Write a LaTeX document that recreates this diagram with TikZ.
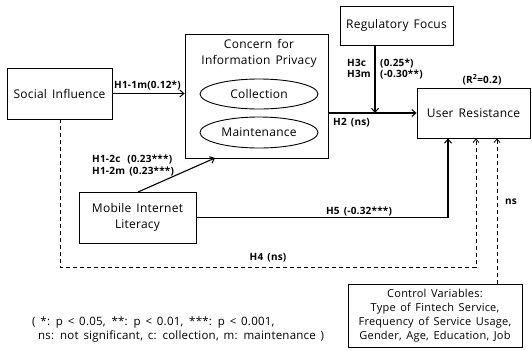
\documentclass[tikz,border=0pt]{standalone}
\usepackage{fontspec}
\setmainfont{Open Sans}[LetterSpace=2,WordSpace=1.5]
\usetikzlibrary{arrows.meta,shapes.geometric}
\begin{document}
\begin{tikzpicture}[x=1pt,y=-1pt,
  box/.style={draw,line width=0.9pt,rectangle,inner sep=0pt,align=center,font=\fontsize{12}{14}\selectfont},
  oval/.style={draw,line width=0.9pt,ellipse,inner sep=0pt,font=\fontsize{12}{14}\selectfont},
  lbl/.style={font=\bfseries\fontsize{10}{11}\selectfont,inner sep=0pt},
  arr/.style={line width=1.1pt,-{Straight Barb[length=4pt,width=7pt,line width=1pt]}},
  darr/.style={line width=0.8pt,dash pattern=on 4pt off 3pt,-{Straight Barb[length=3.5pt,width=6pt,line width=0.8pt]}},
  dln/.style={line width=0.8pt,dash pattern=on 4pt off 3pt}]
\useasboundingbox (0,0) rectangle (532,349);
\node[box,minimum width=105pt,minimum height=51pt] (SI) at (59.5,93.5) {Social Influence};
\node[box,minimum width=143pt,minimum height=124pt] (CIP) at (256.5,96) {};
\node[font=\fontsize{12}{16}\selectfont,align=center] (CIPt) at (259,53) {Concern for\\Information Privacy};
\node[oval,minimum width=118pt,minimum height=30pt] (COL) at (259,94) {Collection};
\node[oval,minimum width=118pt,minimum height=31pt] (MAI) at (259,132.5) {Maintenance};
\node[box,minimum width=113pt,minimum height=39pt] (RF) at (396.5,25.5) {Regulatory Focus};
\node[box,minimum width=113pt,minimum height=50pt] (UR) at (473.5,113) {User Resistance};
\node[box,minimum width=117pt,minimum height=51pt,font=\fontsize{12}{16}\selectfont] (MIL) at (137.5,217.5) {Mobile Internet\\Literacy};
\node[box,minimum width=174pt,minimum height=63pt,font=\fontsize{11}{14.2}\selectfont] (CV) at (435,315.5) {Control Variables:\\Type of Fintech Service,\\Frequency of Service Usage,\\Gender, Age, Education, Job};
\coordinate (J) at (375,113);
\coordinate (H4a) at (60,267);
\coordinate (H4b) at (476,267);
% connectors
\draw[arr] (SI.east) -- (SI.east -| CIP.west);
\draw[arr] (CIP.east |- UR.west) -- (UR.west);
\draw[arr] (RF.south -| J) -- (J);
\draw[arr] (138,192) -- (215,158);
\draw[arr] (MIL.east) -- (MIL.east -| 448,0) -- (UR.south -| 448,0);
\draw[darr] (SI.south -| H4a) -- (H4a) -- (H4b) -- (UR.south -| H4b);
\draw[darr] (CV.north -| 497,0) -- (UR.south -| 497,0);
% labels
\node[lbl,anchor=south west] (L11) at (114,90) {H1-1m(0.12*)};
\node[lbl,anchor=west] (L2) at (333,123) {H2 (ns)};
\node[lbl,anchor=west] (L3c) at (347,63) {H3c};
\node[lbl,anchor=west] (L3m) at (347,74) {H3m};
\node[lbl,anchor=west] (L3cv) at (380,63) {(0.25*)};
\node[lbl,anchor=west] (L3mv) at (380,74) {(-0.30**)};
\node[lbl] (R2) at (482,80) {(R\textsuperscript{2}=0.2)};
\node[lbl,anchor=west] (L12c) at (92,159) {H1-2c\hspace{7pt}(0.23***)};
\node[lbl,anchor=west] (L12m) at (92,171) {H1-2m (0.23***)};
\node[lbl] (L5) at (359,211) {H5 (-0.32***)};
\node[lbl] (L4) at (268,258) {H4 (ns)};
\node[lbl] (Lns) at (511,202) {ns};
\node[font=\fontsize{11.5}{13.5}\selectfont,align=left,anchor=north west,inner sep=0pt] (FN) at (32,317) {( *: p < 0.05,\enspace **: p < 0.01,\enspace ***: p < 0.001,\\\hspace{6pt}ns: not significant, c: collection, m: maintenance )};
\end{tikzpicture}
\end{document}
